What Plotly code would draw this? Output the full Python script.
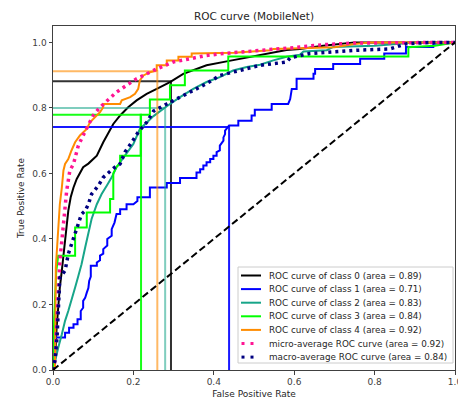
import plotly.graph_objects as go

# ---------------- data ----------------
class_names = ["ROC curve of class 0 (area = 0.89)",
               "ROC curve of class 1 (area = 0.71)",
               "ROC curve of class 2 (area = 0.83)",
               "ROC curve of class 3 (area = 0.84)",
               "ROC curve of class 4 (area = 0.92)"]
micro_name = "micro-average ROC curve (area = 0.92)"
macro_name = "macro-average ROC curve (area = 0.84)"

fpr0 = [0, 0.005, 0.009, 0.013, 0.017, 0.022, 0.026, 0.030, 0.034, 0.038, 0.044, 0.051, 0.059, 0.067, 0.075, 0.088,
        0.109, 0.125, 0.138, 0.150, 0.167, 0.187, 0.208, 0.233, 0.258, 0.291, 0.324, 0.382, 0.432, 0.465, 0.507,
        0.548, 0.581, 0.614, 0.672, 0.75, 1.0]
tpr0 = [0, 0.028, 0.129, 0.200, 0.252, 0.303, 0.354, 0.394, 0.435, 0.486, 0.527, 0.557, 0.583, 0.603, 0.619, 0.630,
        0.654, 0.695, 0.726, 0.751, 0.777, 0.802, 0.823, 0.843, 0.858, 0.879, 0.904, 0.930, 0.942, 0.950, 0.960,
        0.970, 0.977, 0.980, 0.990, 1.0, 1.0]

fpr1 = [0, 0.005, 0.017, 0.030, 0.030, 0.040, 0.040, 0.051, 0.051, 0.061, 0.061, 0.069, 0.069, 0.075, 0.075, 0.080,
        0.084, 0.088, 0.090, 0.094, 0.094, 0.109, 0.109, 0.117, 0.117, 0.125, 0.125, 0.135, 0.135, 0.146, 0.146,
        0.153, 0.158, 0.167, 0.167, 0.183, 0.183, 0.200, 0.210, 0.210, 0.241, 0.241, 0.283, 0.283, 0.316, 0.316,
        0.357, 0.357, 0.366, 0.366, 0.374, 0.374, 0.382, 0.382, 0.391, 0.391, 0.399, 0.399, 0.407, 0.407, 0.415,
        0.415, 0.424, 0.424, 0.428, 0.428, 0.438, 0.461, 0.461, 0.494, 0.494, 0.502, 0.502, 0.544, 0.544, 0.585,
        0.590, 0.594, 0.606, 0.606, 0.648, 0.648, 0.652, 0.652, 0.697, 0.697, 0.764, 0.764, 0.824, 0.824, 0.878,
        0.878, 0.946, 0.946, 1.0]
tpr1 = [0, 0.099, 0.099, 0.099, 0.114, 0.114, 0.129, 0.129, 0.140, 0.140, 0.155, 0.155, 0.180, 0.190, 0.211, 0.220,
        0.236, 0.250, 0.272, 0.285, 0.318, 0.318, 0.328, 0.335, 0.349, 0.355, 0.369, 0.380, 0.400, 0.410, 0.430,
        0.450, 0.476, 0.476, 0.491, 0.491, 0.506, 0.506, 0.516, 0.527, 0.527, 0.557, 0.557, 0.571, 0.571, 0.586,
        0.586, 0.603, 0.603, 0.613, 0.613, 0.624, 0.624, 0.634, 0.634, 0.644, 0.644, 0.654, 0.654, 0.665, 0.670,
        0.685, 0.700, 0.710, 0.720, 0.731, 0.746, 0.746, 0.761, 0.761, 0.777, 0.777, 0.794, 0.794, 0.812, 0.812,
        0.827, 0.858, 0.858, 0.889, 0.889, 0.904, 0.904, 0.919, 0.919, 0.934, 0.934, 0.950, 0.950, 0.966, 0.966,
        0.986, 0.986, 0.996, 1.0]

fpr2 = [0, 0.005, 0.013, 0.022, 0.030, 0.038, 0.046, 0.055, 0.063, 0.071, 0.080, 0.088, 0.096, 0.109, 0.121, 0.134,
        0.146, 0.158, 0.167, 0.183, 0.200, 0.216, 0.233, 0.250, 0.283, 0.316, 0.349, 0.382, 0.415, 0.448, 0.482,
        0.515, 0.548, 0.581, 0.614, 0.623, 0.681, 0.697, 0.800, 0.900, 1.0]
tpr2 = [0, 0.030, 0.068, 0.109, 0.150, 0.180, 0.211, 0.252, 0.287, 0.323, 0.374, 0.415, 0.461, 0.506, 0.537, 0.563,
        0.588, 0.619, 0.634, 0.659, 0.690, 0.735, 0.755, 0.775, 0.805, 0.833, 0.858, 0.879, 0.894, 0.914, 0.925,
        0.932, 0.945, 0.956, 0.962, 0.972, 0.976, 0.986, 0.990, 1.0, 1.0]

fpr3 = [0, 0.003, 0.008, 0.013, 0.055, 0.055, 0.084, 0.084, 0.142, 0.142, 0.150, 0.150, 0.158, 0.167, 0.167, 0.218,
        0.218, 0.241, 0.241, 0.291, 0.291, 0.328, 0.328, 0.436, 0.436, 0.884, 0.884, 0.950, 1.0]
tpr3 = [0, 0.160, 0.300, 0.349, 0.349, 0.435, 0.435, 0.481, 0.481, 0.522, 0.522, 0.600, 0.620, 0.630, 0.654, 0.654,
        0.779, 0.779, 0.826, 0.826, 0.869, 0.869, 0.914, 0.914, 0.957, 0.957, 0.985, 0.990, 1.0]

fpr4 = [0, 0.005, 0.007, 0.011, 0.013, 0.017, 0.022, 0.026, 0.030, 0.038, 0.046, 0.055, 0.067, 0.084, 0.092, 0.104,
        0.117, 0.125, 0.125, 0.167, 0.171, 0.192, 0.204, 0.212, 0.216, 0.225, 0.241, 0.258, 0.258, 0.283, 0.283,
        0.312, 0.312, 0.345, 0.345, 0.450, 0.540, 0.548, 0.700, 0.750, 0.790, 1.0]
tpr4 = [0, 0.010, 0.313, 0.404, 0.456, 0.506, 0.557, 0.609, 0.629, 0.644, 0.670, 0.695, 0.716, 0.736, 0.756, 0.772,
        0.787, 0.802, 0.812, 0.812, 0.823, 0.833, 0.843, 0.858, 0.884, 0.899, 0.909, 0.914, 0.930, 0.930, 0.945,
        0.945, 0.956, 0.956, 0.966, 0.968, 0.976, 0.980, 0.985, 0.995, 1.0, 1.0]

fpr_micro = [0, 0.005, 0.009, 0.013, 0.017, 0.022, 0.026, 0.030, 0.034, 0.038, 0.042, 0.051, 0.057, 0.063, 0.075,
             0.088, 0.100, 0.117, 0.138, 0.158, 0.183, 0.208, 0.233, 0.258, 0.299, 0.341, 0.382, 0.424, 0.465, 0.507,
             0.548, 0.590, 0.672, 0.750, 1.0]
tpr_micro = [0, 0.030, 0.129, 0.252, 0.333, 0.394, 0.456, 0.506, 0.547, 0.578, 0.609, 0.629, 0.655, 0.685, 0.716,
             0.751, 0.777, 0.802, 0.827, 0.848, 0.869, 0.889, 0.904, 0.919, 0.940, 0.950, 0.960, 0.966, 0.971, 0.976,
             0.979, 0.983, 0.993, 0.998, 1.0]

fpr_macro = [0, 0.005, 0.010, 0.017, 0.022, 0.030, 0.038, 0.046, 0.059, 0.071, 0.080, 0.088, 0.096, 0.113, 0.125,
             0.138, 0.154, 0.167, 0.179, 0.196, 0.212, 0.233, 0.250, 0.283, 0.316, 0.349, 0.382, 0.415, 0.448, 0.482,
             0.515, 0.548, 0.581, 0.590, 0.639, 0.755, 0.838, 0.880, 0.945, 1.0]
tpr_macro = [0, 0.030, 0.100, 0.282, 0.290, 0.303, 0.354, 0.384, 0.435, 0.476, 0.486, 0.506, 0.537, 0.563, 0.588,
             0.603, 0.619, 0.629, 0.665, 0.695, 0.726, 0.756, 0.790, 0.812, 0.833, 0.853, 0.874, 0.899, 0.909, 0.919,
             0.930, 0.935, 0.940, 0.953, 0.966, 0.976, 0.980, 0.996, 1.0, 1.0]

# operating points drawn as L-shaped guide lines
cut_fpr = [0.2935, 0.438, 0.279, 0.219, 0.2595]
cut_tpr = [0.881, 0.742, 0.800, 0.779, 0.912]

tick_vals = [0, 0.2, 0.4, 0.6, 0.8, 1.0]
tick_text = ["0.0", "0.2", "0.4", "0.6", "0.8", "1.0"]

class_fpr = [fpr0, fpr1, fpr2, fpr3, fpr4]
class_tpr = [tpr0, tpr1, tpr2, tpr3, tpr4]
class_colors = ["#000000", "#0000ff", "#17a589", "#00ff00", "#ff8c00"]
cut_opacity = [0.8, 0.9, 0.55, 0.9, 0.6]

fig = go.Figure()

for i in range(5):
    fig.add_trace(go.Scatter(x=class_fpr[i], y=class_tpr[i], mode="lines", name=class_names[i],
                             line=dict(color=class_colors[i], width=2), showlegend=False))
    fig.add_trace(go.Scatter(x=[0, cut_fpr[i], cut_fpr[i]], y=[cut_tpr[i], cut_tpr[i], 0], mode="lines",
                             line=dict(color=class_colors[i], width=2), opacity=cut_opacity[i],
                             showlegend=False, hoverinfo="skip"))

fig.add_trace(go.Scatter(x=fpr_micro, y=tpr_micro, mode="lines", name=micro_name, showlegend=False,
                         line=dict(color="#ff1493", width=3.5, dash="3px,4px")))
fig.add_trace(go.Scatter(x=fpr_macro, y=tpr_macro, mode="lines", name=macro_name, showlegend=False,
                         line=dict(color="#000080", width=3.5, dash="3px,4px")))
fig.add_trace(go.Scatter(x=[0, 1], y=[0, 1], mode="lines", showlegend=False, hoverinfo="skip",
                         line=dict(color="#000000", width=2, dash="7px,3.5px")))

# ---------------- layout ----------------
W, H = 458, 399
L, R, T, B = 53, 3, 26, 29
pw, ph = W - L - R, H - T - B


def px2paper(px, py):
    return (px - L) / pw, (H - B - py) / ph


shapes = []
annotations = []
x0, y0 = px2paper(238, 363)
x1, y1 = px2paper(453, 267)
shapes.append(dict(type="rect", xref="paper", yref="paper", x0=x0, y0=y0, x1=x1, y1=y1,
                   line=dict(color="#cccccc", width=1), fillcolor="rgba(255,255,255,0.8)", layer="above"))
legend_names = class_names + [micro_name, macro_name]
legend_colors = class_colors + ["#ff1493", "#000080"]
for k, (nm, col) in enumerate(zip(legend_names, legend_colors)):
    py = 275.5 + 13.6 * k
    lx0, ly = px2paper(241, py)
    lx1, _ = px2paper(261, py)
    if k < 5:
        shapes.append(dict(type="line", xref="paper", yref="paper", x0=lx0, x1=lx1, y0=ly, y1=ly,
                           line=dict(color=col, width=2), layer="above"))
    else:
        for dx in (241.5, 250.5):
            a, b = px2paper(dx, py - 1.5)
            c, d = px2paper(dx + 3, py + 1.5)
            shapes.append(dict(type="rect", xref="paper", yref="paper", x0=a, x1=c, y0=d, y1=b,
                               line=dict(width=0), fillcolor=col, layer="above"))
    tx, _ = px2paper(266.5, py)
    annotations.append(dict(text=nm, xref="paper", yref="paper", x=tx, y=ly, xanchor="left", yanchor="middle",
                            showarrow=False, font=dict(size=8.8, color="#262626", family="DejaVu Sans")))

axis_common = dict(tickvals=tick_vals, ticktext=tick_text, showgrid=False, zeroline=False, showline=True,
                   linecolor="#404040", linewidth=1, mirror=True, ticks="outside", ticklen=3.5,
                   tickcolor="#404040", tickfont=dict(size=9, color="#404040"), ticklabeloverflow="allow")

fig.update_layout(
    width=W, height=H,
    margin=dict(l=L, r=R, t=T, b=B, autoexpand=False),
    paper_bgcolor="white", plot_bgcolor="white",
    font=dict(family="DejaVu Sans", size=9, color="#262626"),
    title=dict(text="ROC curve (MobileNet)", x=(L + pw / 2) / W, xanchor="center", y=1 - 16 / H, yanchor="middle",
               font=dict(size=10.5, color="#262626")),
    showlegend=False,
    hovermode=False,
    shapes=shapes,
    annotations=annotations,
    xaxis=dict(range=[0, 1.0], **axis_common,
               title=dict(text="False Positive Rate", font=dict(size=9, color="#262626"), standoff=4)),
    yaxis=dict(range=[0, 1.05], **axis_common,
               title=dict(text="True Positive Rate", font=dict(size=9, color="#262626"), standoff=6)),
)

fig.write_html("out.html", config={"displayModeBar": False},
               post_script="document.body.style.margin='0';document.body.style.padding='0';")
